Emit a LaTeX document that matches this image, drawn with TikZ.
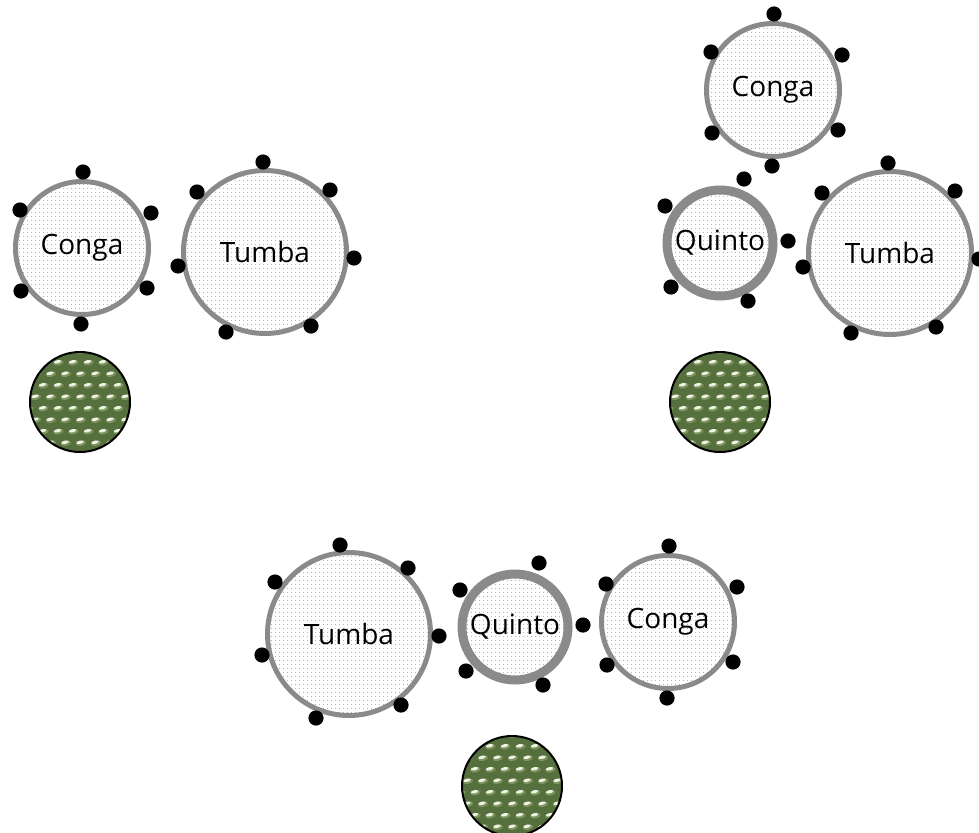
\documentclass[tikz,border=0pt]{standalone}
\usepackage{fontspec}
\setmainfont{Open Sans}
\usetikzlibrary{patterns.meta}

\definecolor{rimgray}{HTML}{8A8A8A}
\definecolor{stoolgreen}{HTML}{56703D}
\definecolor{stoolmid}{HTML}{7E965E}
\definecolor{stoolhi}{HTML}{EEF3E4}

\tikzset{
  drumhead/.style={circle, draw=rimgray, line width=5pt, inner sep=0pt,
    pattern={Dots[distance=4pt, radius=0.6pt]}, pattern color=black!40,
    font=\fontsize{28}{30}\selectfont},
  congahead/.style={drumhead, minimum size=133pt},
  tumbahead/.style={drumhead, minimum size=163pt},
  quintohead/.style={drumhead, line width=9pt, minimum size=106pt},
  stool/.style={circle, draw=black, line width=2pt, fill=stoolgreen,
    inner sep=0pt, minimum size=100pt,
    path picture={
      \begin{scope}[shift={(path picture bounding box.center)}]
        \foreach \row in {0,...,9}{
          \pgfmathsetmacro\rowy{(\row-4.5)*11.5}
          \pgfmathsetmacro\rowx{mod(\row,2)*7.5}
          \foreach \col in {-4,...,4}{
            \fill[stoolmid] ({\col*15+\rowx+1},{\rowy+1})
              ellipse [x radius=5.2, y radius=2.6, rotate=12];
            \fill[stoolhi] ({\col*15+\rowx},\rowy)
              ellipse [x radius=3.8, y radius=1.6, rotate=12];
          }
        }
      \end{scope}
    }},
  lug/.style={fill=black}
}

% lugs around a drum, given as offsets from its centre
\newcommand\druglugs[2]{%
  \foreach \dx/\dy in {#2} \fill[lug] (#1.center) ++(\dx,\dy) circle (7.6);}

\begin{document}
\begin{tikzpicture}[x=1pt, y=-1pt]
\useasboundingbox (0,0) rectangle (979,832);

% ---- set-up with two drums ----
\node[congahead] (conA) at (82,248) {Conga};
\node[tumbahead] (tumA) at (265,252) {Tumba};
\node[stool] (stoolA) at (80,402) {};
\druglugs{conA}{1/-76, -62/-38, 69/-35, -61/43, 65/40, -1/76}
\druglugs{tumA}{-2/-90, -68/-60, 65/-62, -87/14, 89/6, -39/80, 46/74}

% ---- set-up with three drums, conga on top ----
\node[congahead] (conB) at (773,90) {Conga};
\node[quintohead] (quiB) at (720,243) {Quinto};
\node[tumbahead] (tumB) at (890,253) {Tumba};
\node[stool] (stoolB) at (720,402) {};
\druglugs{conB}{1/-76, -62/-38, 69/-35, -61/43, 65/40, -1/76}
\druglugs{quiB}{24/-64, -55/-37, 68/-2, -49/44, 28/58}
\druglugs{tumB}{-2/-90, -68/-60, 65/-62, -87/14, 89/6, -39/80, 46/74}

% ---- set-up with three drums in a row ----
\node[tumbahead] (tumC) at (349,634) {Tumba};
\node[quintohead] (quiC) at (515,627) {Quinto};
\node[congahead] (conC) at (668,622) {Conga};
\node[stool] (stoolC) at (512,786) {};
\druglugs{tumC}{-9/-89, -74/-52, 59/-66, -87/21, 90/2, -33/84, 52/71}
\druglugs{quiC}{24/-64, -55/-37, 68/-2, -49/44, 28/58}
\druglugs{conC}{1/-76, -62/-38, 69/-35, -61/43, 65/40, -1/76}
\end{tikzpicture}
\end{document}
